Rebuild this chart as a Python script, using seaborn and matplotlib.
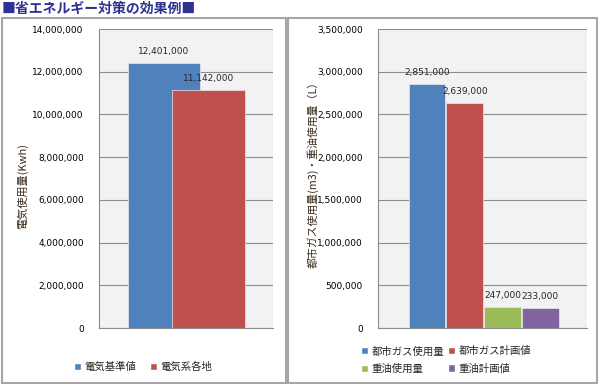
import seaborn as sns
import matplotlib.pyplot as plt
import pandas as pd
from matplotlib.patches import Patch, Rectangle
from matplotlib.ticker import FuncFormatter

# Data
elec_labels = ['電気基準値', '電気系各地']
elec_values = [12401000, 11142000]
elec_colors = ['#4f81bd', '#c0504d']

fuel_labels = ['都市ガス使用量', '都市ガス計画値', '重油使用量', '重油計画値']
fuel_values = [2851000, 2639000, 247000, 233000]
fuel_colors = ['#4f81bd', '#c0504d', '#9bbb59', '#8064a2']

title = '■省エネルギー対策の効果例■'
elec_ylabel = '電気使用量(Kwh)'
fuel_ylabel = '都市ガス使用量(m3)・重油使用量（L）'

sns.set_style("white")
plt.rcParams['font.family'] = ['Noto Sans CJK JP', 'DejaVu Sans']

fig = plt.figure(figsize=(6.0, 3.85), dpi=100)
W, H = 600, 385


def fig_rect(x0, y0, x1, y1):
    # pixel box (top-left origin) -> figure fraction rect
    return [x0 / W, 1 - y1 / H, (x1 - x0) / W, (y1 - y0) / H]


# panel frames
for x0, x1 in [(2, 286), (288, 597)]:
    fig.patches.append(Rectangle((x0 / W, 1 - 383 / H), (x1 - x0) / W, (383 - 18) / H,
                                 transform=fig.transFigure, fill=False,
                                 edgecolor='#a6a6a6', linewidth=1.5))

fig.text(2 / W, 1 - 9 / H, title, fontsize=10, fontweight='bold',
         color='#2e3192', ha='left', va='center')

fmt = FuncFormatter(lambda v, p: f'{v:,.0f}')


def style_axes(ax, ymax, step):
    ax.set_facecolor('#f2f2f2')
    ax.set_ylim(0, ymax)
    ax.set_yticks(range(0, ymax + 1, step))
    ax.yaxis.set_major_formatter(fmt)
    ax.grid(axis='y', color='#8c8c8c', linewidth=0.8)
    ax.set_axisbelow(True)
    ax.set_xticks([])
    ax.set_xlabel('')
    ax.set_ylabel('')
    for s in ['top', 'right']:
        ax.spines[s].set_visible(False)
    for s in ['left', 'bottom']:
        ax.spines[s].set_color('#8c8c8c')
        ax.spines[s].set_linewidth(0.8)
    ax.tick_params(axis='y', length=3, color='#8c8c8c', labelsize=6.5, pad=8,
                   labelcolor='#000000')
    for t in ax.get_yticklabels():
        t.set_fontfamily('DejaVu Sans')


def label_bars(ax, values):
    for p, v in zip(ax.patches, values):
        ax.annotate(f'{v:,}', (p.get_x() + p.get_width() / 2, p.get_height()),
                    xytext=(0, 5), textcoords='offset points', ha='center',
                    va='bottom', fontsize=6.5, family='DejaVu Sans')


# left chart: electricity
ax1 = fig.add_axes(fig_rect(99, 29, 273, 328))
df1 = pd.DataFrame({'label': elec_labels, 'value': elec_values})
sns.barplot(data=df1, x='label', y='value', hue='label', palette=elec_colors,
            saturation=1, width=1.63, legend=False, ax=ax1,
            edgecolor='#e8e8e8', linewidth=0.5)
ax1.set_xlim(-1.46, 2.45)
style_axes(ax1, 14000000, 2000000)
label_bars(ax1, elec_values)
fig.text(22 / W, 1 - 186 / H, elec_ylabel, rotation=90, fontsize=8,
         ha='center', va='center', color='#3a2a1a')

# right chart: gas / heavy oil
ax2 = fig.add_axes(fig_rect(378, 29, 587, 328))
df2 = pd.DataFrame({'label': fuel_labels, 'value': fuel_values})
sns.barplot(data=df2, x='label', y='value', hue='label', palette=fuel_colors,
            saturation=1, width=0.97, legend=False, ax=ax2,
            edgecolor='#e8e8e8', linewidth=0.5)
ax2.set_xlim(-1.30, 4.24)
style_axes(ax2, 3500000, 500000)
label_bars(ax2, fuel_values)
fig.text(313 / W, 1 - 172 / H, fuel_ylabel, rotation=90, fontsize=7.8,
         ha='center', va='center', color='#3a2a1a')

# legends
h1 = [Patch(facecolor=c) for c in elec_colors]
fig.legend(h1, elec_labels, loc='center', bbox_to_anchor=(143 / W, 1 - 367 / H),
           ncol=2, frameon=False, fontsize=7.5, handlelength=0.7, handleheight=0.7,
           handletextpad=0.3, columnspacing=1.3)
# ncol=2 fills column-wise, so reorder to get rows [gas, gas], [oil, oil]
order = [0, 2, 1, 3]
h2 = [Patch(facecolor=fuel_colors[i]) for i in order]
fig.legend(h2, [fuel_labels[i] for i in order], loc='center',
           bbox_to_anchor=(446 / W, 1 - 360 / H),
           ncol=2, frameon=False, fontsize=7.5, handlelength=0.7, handleheight=0.7,
           handletextpad=0.3, columnspacing=0.4, labelspacing=0.7)

fig.savefig('out.png', dpi=100, facecolor='white')
